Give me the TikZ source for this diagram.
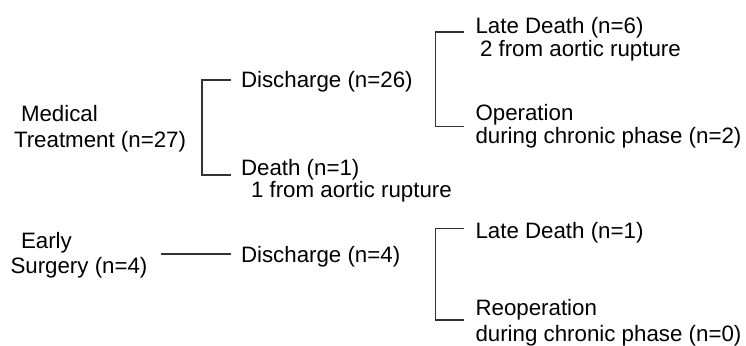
\documentclass[tikz,border=0pt]{standalone}
\usepackage{fontspec}
\setmainfont{Liberation Sans}
\begin{document}
\begin{tikzpicture}[x=1bp,y=-1bp,
  lbl/.style={anchor=base west,inner sep=0pt,outer sep=0pt,font=\fontsize{22.3bp}{25bp}\selectfont},
  conn/.style={draw=black!80,line width=1.1bp}]
\useasboundingbox (0,0) rectangle (746,345);
% left column
\node[lbl] (med1) at (21,121.5) {Medical};
\node[lbl] (med2) at (14,147) {Treatment (n=27)};
\node[lbl] (es1) at (21,248) {Early};
\node[lbl] (es2) at (10.5,273) {Surgery (n=4)};
% middle column
\node[lbl] (dis1) at (241,87) {Discharge (n=26)};
\node[lbl] (dth1) at (241,175) {Death (n=1)};
\node[lbl] (dth2) at (251,197) {1 from aortic rupture};
\node[lbl] (dis2) at (241,262.5) {Discharge (n=4)};
% right column
\node[lbl] (ld1) at (475.5,33) {Late Death (n=6)};
\node[lbl] (ld1b) at (480,56) {2 from aortic rupture};
\node[lbl] (op1) at (475.5,120.5) {Operation};
\node[lbl] (op1b) at (475.5,143.5) {during chronic phase (n=2)};
\node[lbl] (ld2) at (475.5,238) {Late Death (n=1)};
\node[lbl] (op2) at (475.5,315.5) {Reoperation};
\node[lbl] (op2b) at (475.5,341) {during chronic phase (n=0)};
% connector corners
\coordinate (b1t) at (231,80);
\coordinate (b1b) at (231,175);
\coordinate (b1x) at (202,127);
\coordinate (b2t) at (464,32);
\coordinate (b2b) at (464,126.5);
\coordinate (b2x) at (435.5,79);
\coordinate (b3t) at (464,228.5);
\coordinate (b3b) at (464,320);
\coordinate (b3x) at (435.5,273);
\coordinate (hs) at (161,254);
\coordinate (he) at (231,254);
\draw[conn] (b1t) -| (b1x) |- (b1b);
\draw[conn] (b2t) -| (b2x) |- (b2b);
\draw[conn] (b3t) -| (b3x) |- (b3b);
\draw[conn] (hs) -- (he);
\end{tikzpicture}
\end{document}
